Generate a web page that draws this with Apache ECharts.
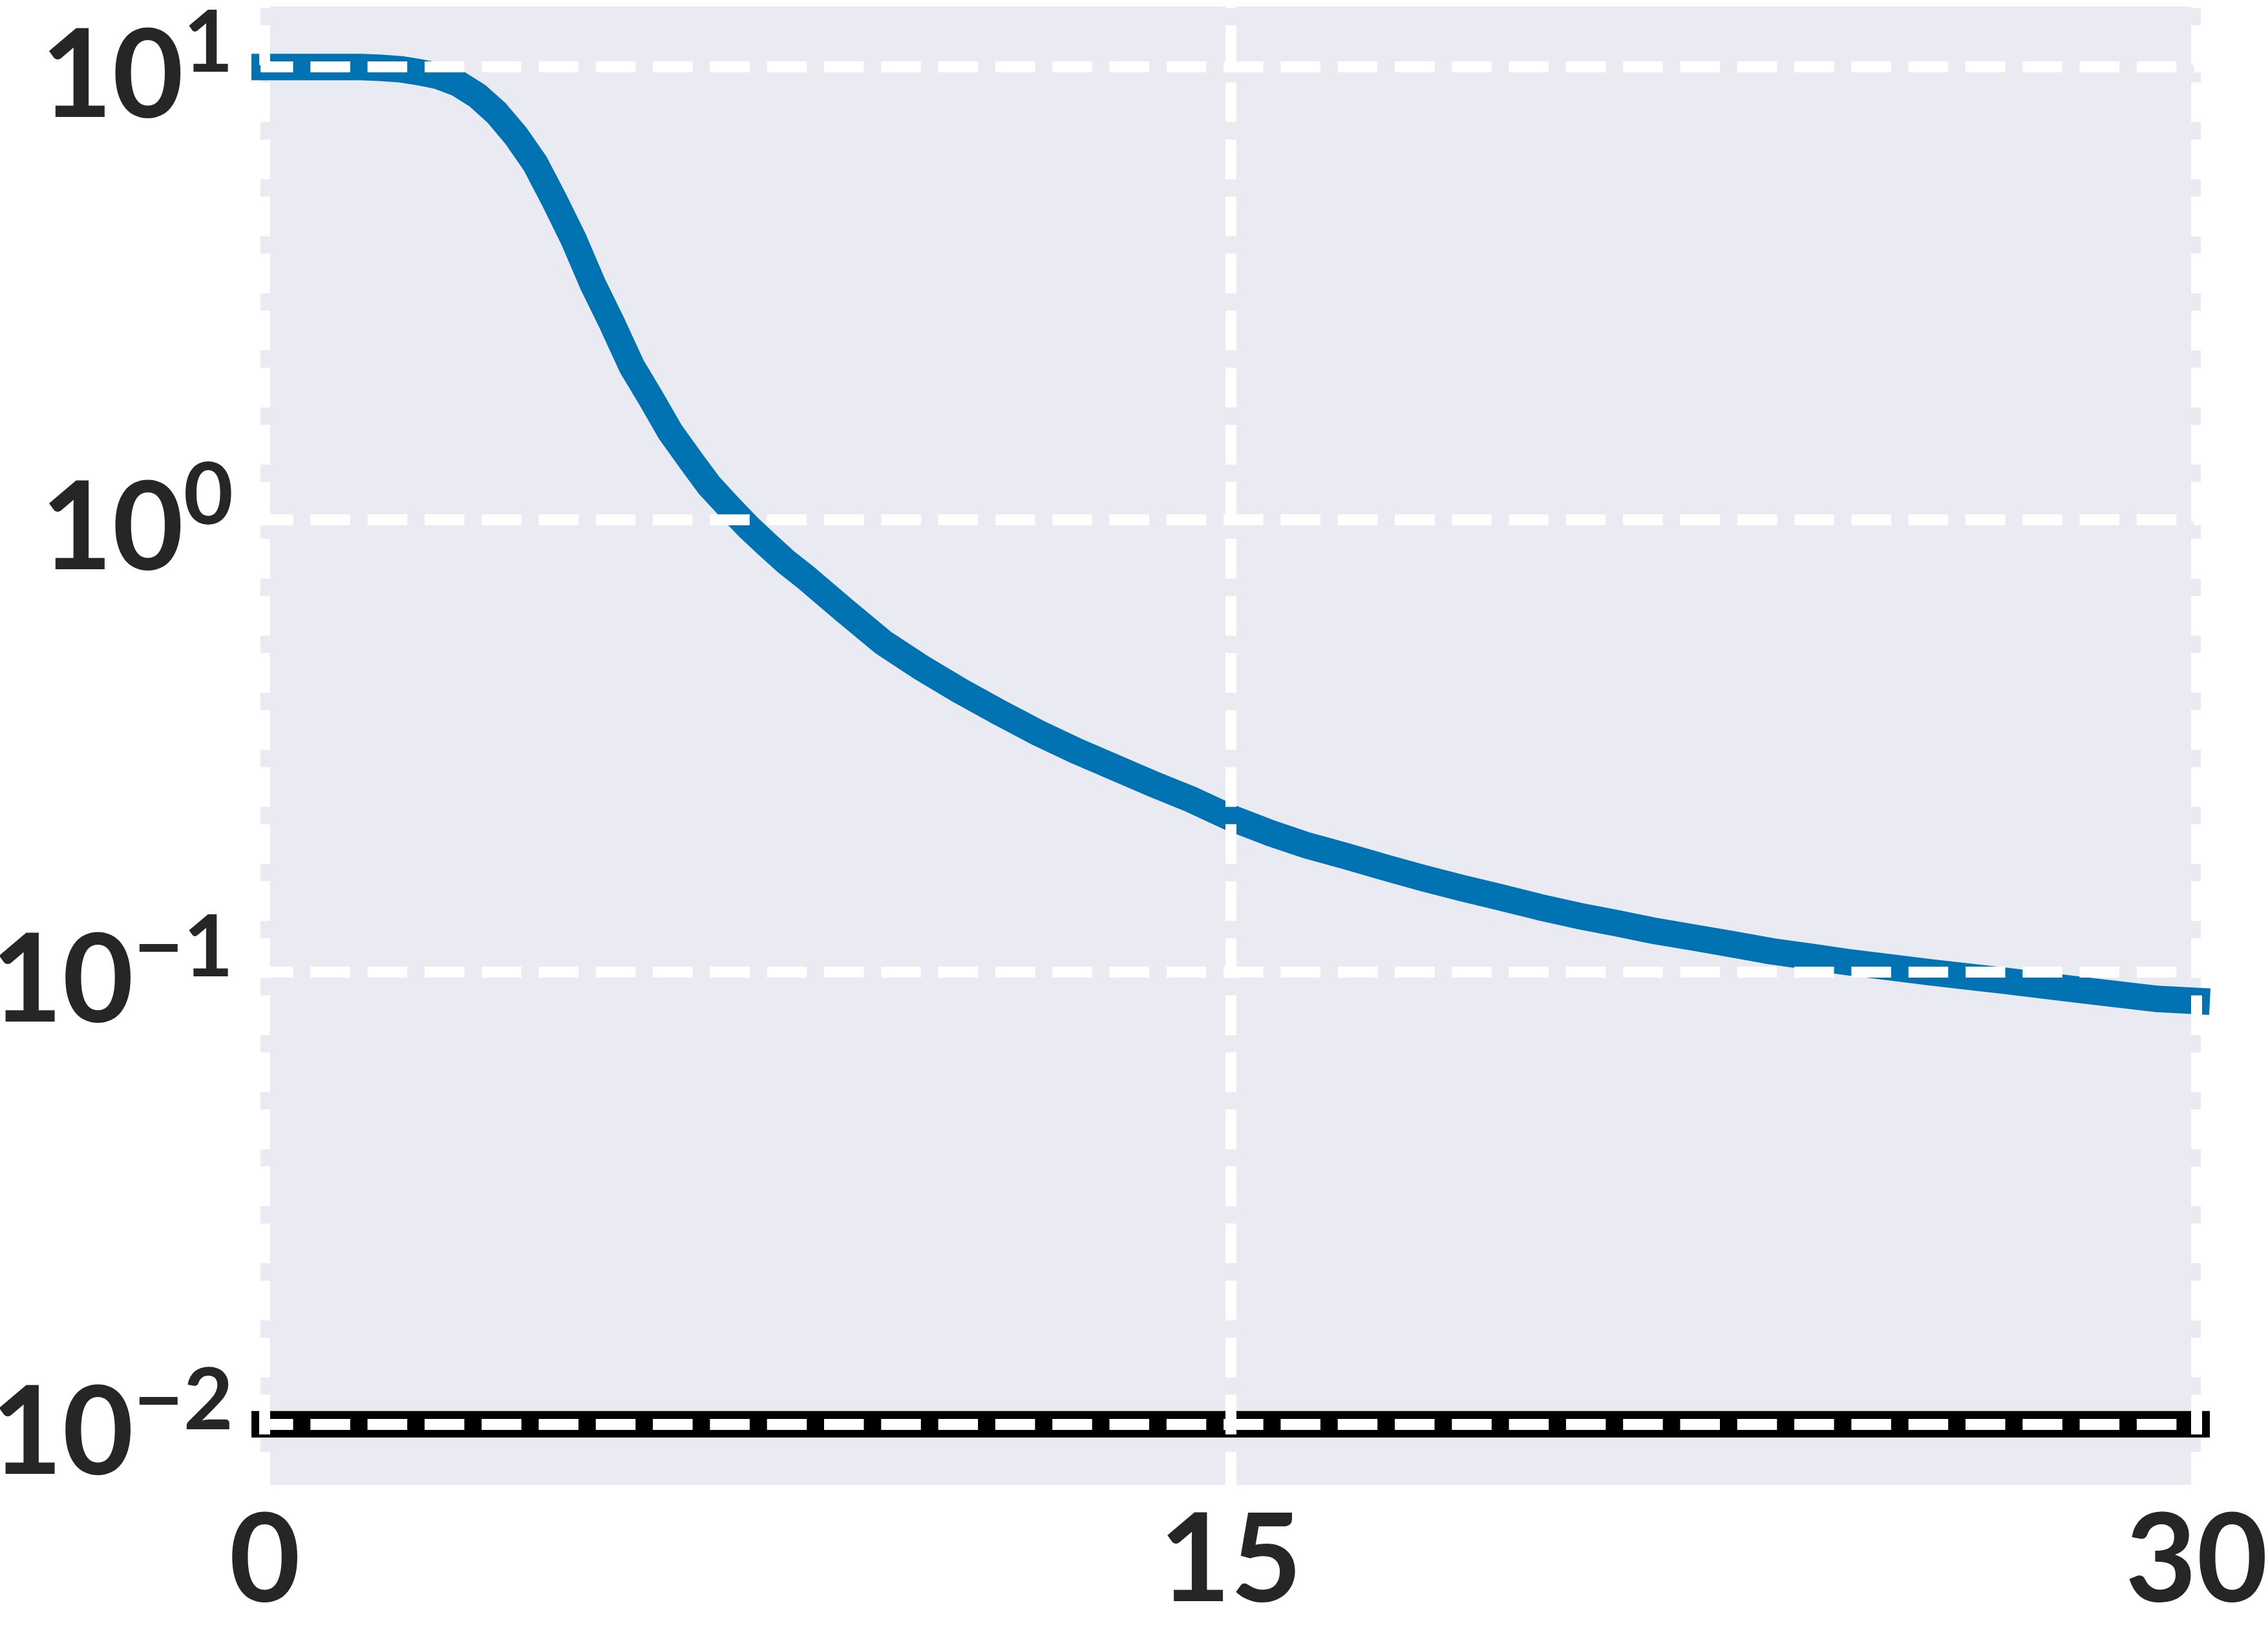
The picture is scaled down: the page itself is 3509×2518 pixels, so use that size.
<!DOCTYPE html>
<html>
<head>
<meta charset="utf-8">
<script src="https://cdn.jsdelivr.net/npm/echarts@6/dist/echarts.min.js"></script>
<style>
html,body{margin:0;padding:0;background:#fff;}
#chart{width:3509px;height:2518px;}
</style>
</head>
<body>
<div id="chart"></div>
<script>
// ---- data ----
const xTickValues = [0, 15, 30];
const yTickValues = [0.01, 0.1, 1, 10];
const lossX = [0, 0.6, 1.2, 1.5, 1.8, 2.1, 2.4, 2.7, 3.0, 3.3, 3.6, 3.9, 4.2, 4.5, 4.8, 5.1, 5.4, 5.7, 6.0, 6.3,
  6.6, 6.9, 7.2, 7.5, 7.8, 8.1, 8.4, 8.7, 9.0, 9.6, 10.2, 10.8, 11.4,
  12.0, 12.6, 13.2, 13.8, 14.4, 15.0, 15.6, 16.2, 16.8, 17.4, 18.0, 18.6, 19.2, 19.8, 20.4, 21.0, 21.6, 22.2, 22.8,
  23.4, 24.0, 24.6, 25.2, 25.8, 26.4, 27.0, 27.6, 28.2, 28.8, 29.4, 30.0];
const lossY = [10.0, 10.0, 10.0, 10.0, 9.96, 9.89, 9.74, 9.55, 9.2, 8.65, 7.92, 7.05, 6.12, 5.07, 4.15, 3.30, 2.70,
  2.18, 1.85, 1.56, 1.36, 1.19, 1.07, 0.965, 0.88, 0.805, 0.745, 0.685, 0.63, 0.535,
  0.47, 0.418, 0.375, 0.338, 0.308, 0.283, 0.26, 0.24, 0.219, 0.203, 0.19, 0.18, 0.17, 0.161, 0.153, 0.146, 0.139,
  0.133, 0.128, 0.123, 0.119, 0.115, 0.111, 0.108, 0.105, 0.1025, 0.100, 0.0978, 0.0956, 0.0934, 0.0912, 0.0891,
  0.0871, 0.0862];
const refX = [0, 30];
const refY = [0.01, 0.01];
const xRange = [-0.0652, 30.0652];
const yRange = [0.007345, 13.61];

// ---- chart ----
const chart = echarts.init(document.getElementById('chart'), null, {renderer: 'canvas'});
const textColor = '#262626';
const fontFam = 'Lato';
function supLabel(v) {
  const e = Math.round(Math.log10(v));
  const s = e < 0 ? '\u2212' + (-e) : String(e);
  return '{b|10}{s|' + s + '}';
}
const gridLine = {color: '#ffffff', width: 17, type: [61.5, 26.8]};

chart.setOption({
  animation: false,
  backgroundColor: '#ffffff',
  grid: {
    left: 403, top: 10, width: 3002, height: 2288,
    show: true, backgroundColor: '#EAEAF2', borderWidth: 0,
    containLabel: false, outerBoundsMode: 'none'
  },
  xAxis: {
    type: 'value', min: xRange[0], max: xRange[1], z: 10,
    axisLine: {show: false},
    axisTick: {show: false, customValues: xTickValues},
    axisLabel: {
      customValues: xTickValues, margin: 24, color: textColor,
      fontFamily: fontFam, fontWeight: 'bold', fontSize: 190, lineHeight: 190,
      formatter: v => String(v)
    },
    splitLine: {show: true, lineStyle: Object.assign({dashOffset: 59}, gridLine)}
  },
  yAxis: {
    type: 'log', logBase: 10, min: yRange[0], max: yRange[1], z: 10,
    axisLine: {show: false},
    axisTick: {show: false, customValues: yTickValues},
    axisLabel: {
      customValues: yTickValues, margin: 42, color: textColor, padding: [32, 0, 0, 0],
      formatter: supLabel,
      rich: {
        b: {fontFamily: fontFam, fontWeight: 'bold', fontSize: 190, lineHeight: 236, color: textColor},
        s: {fontFamily: fontFam, fontWeight: 'bold', fontSize: 133, verticalAlign: 'top', color: textColor}
      }
    },
    splitLine: {show: true, lineStyle: Object.assign({dashOffset: 11}, gridLine)}
  },
  series: [
    {
      type: 'line', name: 'reference', z: 2,
      data: refX.map((x, i) => [x, refY[i]]),
      showSymbol: false, clip: true,
      lineStyle: {color: '#000000', width: 41, cap: 'square'}
    },
    {
      type: 'line', name: 'loss', z: 3,
      data: lossX.map((x, i) => [x, lossY[i]]),
      showSymbol: false, clip: true,
      lineStyle: {color: '#0173b2', width: 41, cap: 'square', join: 'round'}
    }
  ]
});
</script>
</body>
</html>
